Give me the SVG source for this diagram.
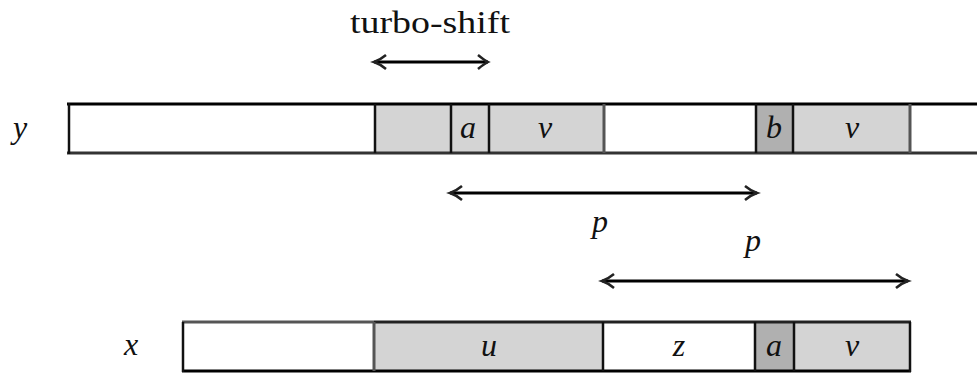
<svg xmlns="http://www.w3.org/2000/svg" width="977" height="373" viewBox="0 0 977 373">
<style>
text{font-family:"Liberation Serif","Times New Roman","DejaVu Serif","Noto Serif",serif;font-size:32px;fill:#111}
.m{font-style:italic;text-anchor:middle}
.w{fill:#fff}
.g{fill:#d4d4d4}
.d{fill:#b0b0b0}
.div{stroke:#111;stroke-width:2.5}
.dg{stroke:#555;stroke-width:3}
.arr{stroke:#000;stroke-width:3;fill:none}
.hd{stroke:#222;stroke-width:2.5;fill:none}
</style>
<text x="350" y="33" textLength="160" lengthAdjust="spacingAndGlyphs" font-family="Liberation Serif, DejaVu Serif, serif">turbo-shift</text>
<text class="m" x="20" y="138">y</text>
<text class="m" x="131" y="355">x</text>
<g id="yrow">
  <g id="y-c1"><rect class="w" x="68" y="104" width="307" height="49"/></g>
  <g id="y-c2"><rect class="g" x="375" y="104" width="76" height="49"/></g>
  <g id="y-a"><rect class="g" x="451" y="104" width="38" height="49"/><text class="m" x="468" y="138">a</text></g>
  <g id="y-v1"><rect class="g" x="489" y="104" width="115" height="49"/><text class="m" x="545" y="138">v</text></g>
  <g id="y-c5"><rect class="w" x="604" y="104" width="151" height="49"/></g>
  <g id="y-b"><rect class="d" x="755" y="104" width="39" height="49"/><text class="m" x="774" y="138">b</text></g>
  <g id="y-v2"><rect class="g" x="794" y="104" width="116" height="49"/><text class="m" x="852" y="138">v</text></g>
  <g id="y-c8"><rect class="w" x="910" y="104" width="67" height="49"/></g>
  <line x1="67" y1="104" x2="977" y2="104" stroke="#000" stroke-width="3"/>
  <line x1="67" y1="153" x2="977" y2="153" stroke="#333" stroke-width="3"/>
  <line class="div" x1="69" y1="103" x2="69" y2="154" stroke-width="3"/>
  <line class="div" x1="375" y1="104" x2="375" y2="153"/>
  <line class="div" x1="451" y1="104" x2="451" y2="153"/>
  <line class="div" x1="489" y1="104" x2="489" y2="153"/>
  <line class="dg" x1="604" y1="104" x2="604" y2="153"/>
  <line class="div" x1="756" y1="104" x2="756" y2="153"/>
  <line class="div" x1="793" y1="104" x2="793" y2="153"/>
  <line class="dg" x1="910" y1="104" x2="910" y2="153"/>
</g>
<g id="xrow">
  <g id="x-c1"><rect class="w" x="183" y="322" width="191" height="49"/></g>
  <g id="x-u"><rect class="g" x="374" y="322" width="230" height="49"/><text class="m" x="489" y="356">u</text></g>
  <g id="x-z"><rect class="w" x="604" y="322" width="151" height="49"/><text class="m" x="679" y="356">z</text></g>
  <g id="x-a"><rect class="d" x="755" y="322" width="39" height="49"/><text class="m" x="774" y="356">a</text></g>
  <g id="x-v"><rect class="g" x="794" y="322" width="116" height="49"/><text class="m" x="852" y="356">v</text></g>
  <line x1="182" y1="322" x2="374" y2="322" stroke="#555" stroke-width="3"/>
  <line x1="374" y1="322" x2="911" y2="322" stroke="#222" stroke-width="3"/>
  <line x1="182" y1="371" x2="911" y2="371" stroke="#000" stroke-width="3"/>
  <line class="div" x1="183" y1="322" x2="183" y2="372" stroke-width="3"/>
  <line class="dg" x1="374" y1="322" x2="374" y2="371"/>
  <line class="div" x1="603" y1="322" x2="603" y2="371"/>
  <line class="div" x1="755" y1="322" x2="755" y2="371"/>
  <line class="div" x1="794" y1="322" x2="794" y2="371"/>
  <line class="div" x1="910" y1="322" x2="910" y2="372" stroke-width="3"/>
</g>
<g id="connectors">
  <g id="turbo-arrow">
    <line class="arr" x1="374" y1="62" x2="488" y2="62"/>
    <path class="hd" d="M386,55 Q380,60 374,62 Q380,64 386,69 M478,55 Q484,60 488,62 Q484,64 478,69"/>
  </g>
  <g id="p-arrow-1">
    <line class="arr" x1="450" y1="193" x2="757" y2="193"/>
    <path class="hd" d="M462,186 Q456,191 450,193 Q456,195 462,200 M745,186 Q751,191 757,193 Q751,195 745,200"/>
  </g>
  <g id="p-arrow-2">
    <line class="arr" x1="602" y1="281" x2="908" y2="281"/>
    <path class="hd" d="M614,274 Q608,279 602,281 Q608,283 614,288 M896,274 Q902,279 908,281 Q902,283 896,288"/>
  </g>
</g>
<text class="m" x="600" y="232">p</text>
<text class="m" x="753" y="251">p</text>
</svg>
